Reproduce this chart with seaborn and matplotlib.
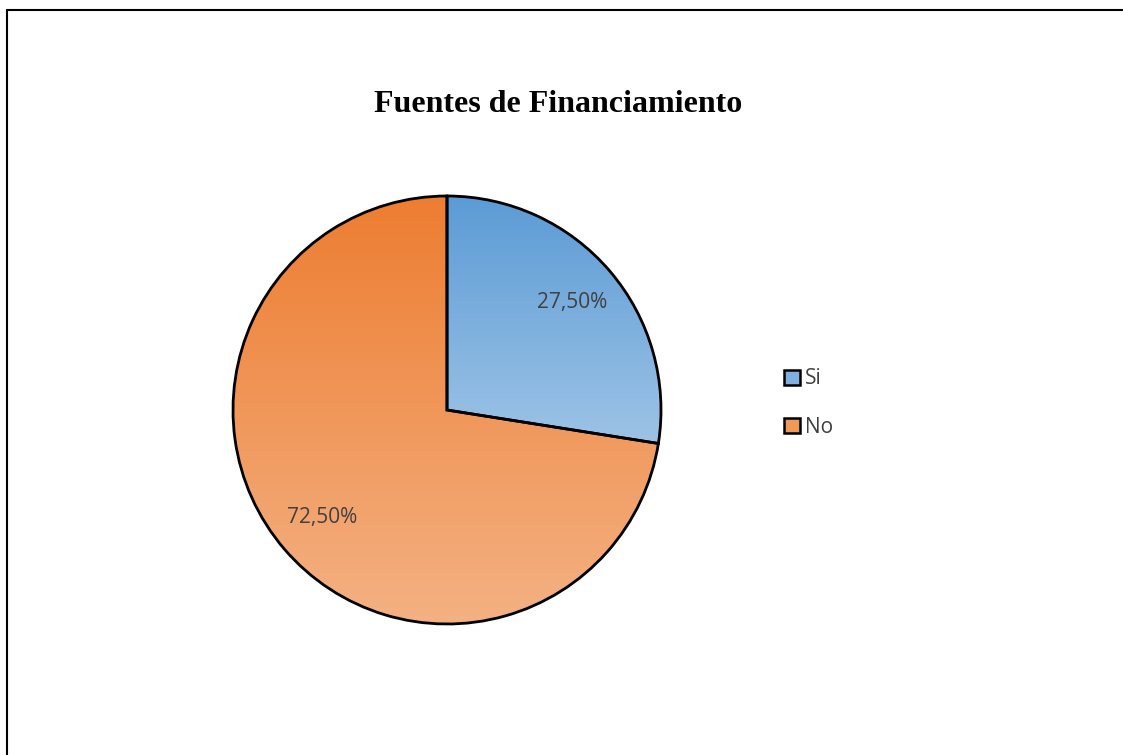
import numpy as np
import matplotlib
matplotlib.use("Agg")
import matplotlib.pyplot as plt
import seaborn as sns
from matplotlib.colors import LinearSegmentedColormap
from matplotlib.patches import Patch
from matplotlib.lines import Line2D

categories = ["Si", "No"]
values = [27.5, 72.5]
title = "Fuentes de Financiamiento"
top_colors = ["#5B9BD5", "#ED7D31"]
bottom_colors = ["#9DC3E6", "#F4B183"]

sns.set_theme(style="white")
plt.rcParams["font.family"] = ["Open Sans", "DejaVu Sans"]

fig = plt.figure(figsize=(11.23, 7.55), dpi=100)
fig.patch.set_facecolor("white")

W, H = 1123, 755
cx, cy, r = 447, 410, 214
lim = 1.02
rr = r * lim
ax = fig.add_axes([(cx - rr) / W, 1 - (cy + rr) / H, 2 * rr / W, 2 * rr / H])

wedges, texts, autotexts = ax.pie(
    values, startangle=90, counterclock=False, radius=1,
    autopct=lambda p: f"{p:.2f}%".replace(".", ","), pctdistance=0.77,
    wedgeprops=dict(edgecolor="black", linewidth=2),
    textprops=dict(color="#404040", fontsize=15),
)
ax.set_aspect("equal")
ax.axis("off")

for w, c0, c1 in zip(wedges, top_colors, bottom_colors):
    ext = w.get_path().get_extents(w.get_patch_transform())
    cmap = LinearSegmentedColormap.from_list("g", [c1, c0])
    grad = np.linspace(0, 1, 256).reshape(-1, 1)
    im = ax.imshow(grad, cmap=cmap, origin="lower", aspect="auto",
                   extent=[ext.x0, ext.x1, ext.y0, ext.y1], zorder=w.get_zorder() + 0.1)
    im.set_clip_path(w)
    w.set_facecolor("none")
    w.set_zorder(w.get_zorder() + 0.2)
for t in autotexts:
    t.set_zorder(5)
ax.set_xlim(-lim, lim)
ax.set_ylim(-lim, lim)

fig.text(558 / W, 1 - 104 / H, title, ha="center", va="center",
         fontsize=23, fontweight="bold", family="Liberation Serif", color="black")

handles = [Patch(facecolor=c, edgecolor="black", linewidth=1.8)
           for c in ["#7FB0DE", "#F09A5A"]]
fig.legend(handles, categories, loc="center left",
           bbox_to_anchor=(784 / W, 1 - 403 / H), frameon=False,
           handlelength=0.75, handleheight=0.75, handletextpad=0.25,
           labelspacing=1.3, borderpad=0, borderaxespad=0,
           prop=dict(size=15), labelcolor="#404040")

fig.add_artist(Line2D([7 / W, 7 / W], [0, 1 - 10 / H], color="black", lw=1.5,
                      transform=fig.transFigure))
fig.add_artist(Line2D([7 / W, 1], [1 - 10 / H, 1 - 10 / H], color="black", lw=1.5,
                      transform=fig.transFigure))

fig.savefig("out.png", dpi=100, facecolor="white")
